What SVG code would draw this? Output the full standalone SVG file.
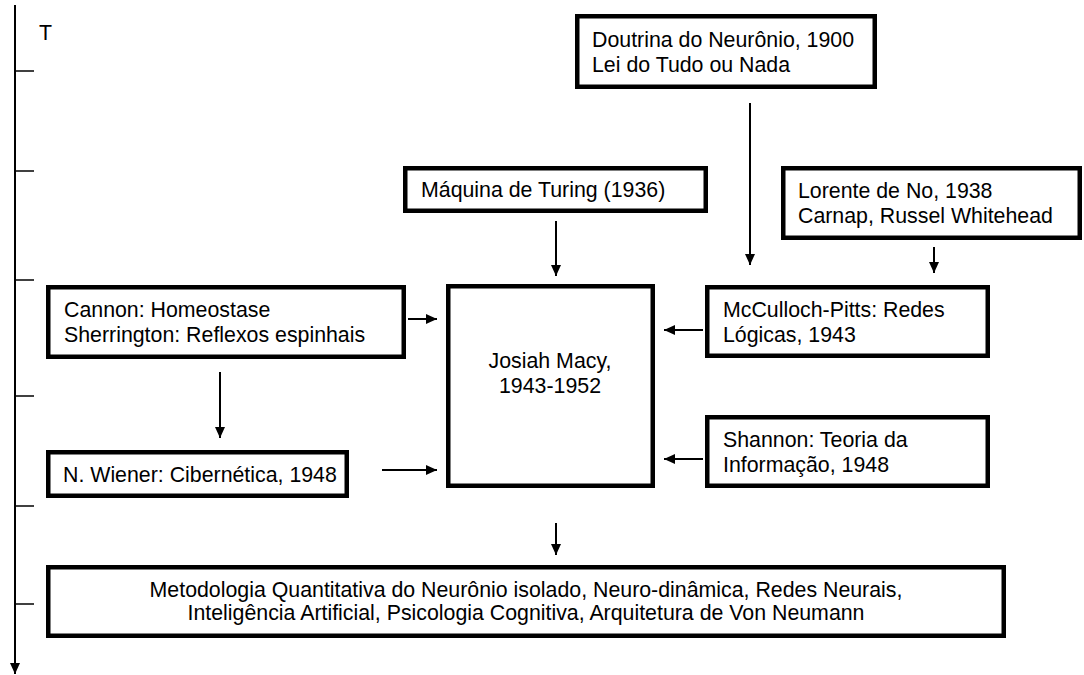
<svg xmlns="http://www.w3.org/2000/svg" width="1084" height="675" viewBox="0 0 1084 675">
<style>
.box{fill:#fff;stroke:#000;stroke-width:4.5}
.t{font-family:"Liberation Sans",Arial,sans-serif;font-size:21.33px;fill:#000}
.c{stroke:#000;stroke-width:2;fill:none;marker-end:url(#ah)}
.tick{stroke:#000;stroke-width:1.5}
</style>
<defs>
<marker id="ah" markerUnits="userSpaceOnUse" markerWidth="11" markerHeight="10" refX="11" refY="5" orient="auto">
<path d="M0,0 L11,5 L0,10 z" fill="#000"/>
</marker>
</defs>
<g id="axis">
<line x1="15" y1="5" x2="15" y2="674" class="c"/>
<line x1="16" y1="71" x2="34" y2="71" class="tick"/>
<line x1="16" y1="171" x2="34" y2="171" class="tick"/>
<line x1="16" y1="280" x2="34" y2="280" class="tick"/>
<line x1="16" y1="396" x2="34" y2="396" class="tick"/>
<line x1="16" y1="506" x2="34" y2="506" class="tick"/>
<line x1="16" y1="604" x2="34" y2="604" class="tick"/>
<text x="39" y="40" class="t">T</text>
</g>
<g id="connectors">
<line x1="750" y1="103" x2="750" y2="265" class="c"/>
<line x1="556" y1="221" x2="556" y2="276" class="c"/>
<line x1="934" y1="247" x2="934" y2="273" class="c"/>
<line x1="703" y1="330" x2="664" y2="330" class="c"/>
<line x1="703" y1="459" x2="664" y2="459" class="c"/>
<line x1="408" y1="319" x2="437" y2="319" class="c"/>
<line x1="382" y1="470" x2="437" y2="470" class="c"/>
<line x1="220" y1="372" x2="220" y2="438" class="c"/>
<line x1="556" y1="523" x2="556" y2="555" class="c"/>
</g>
<g id="doutrina">
<rect x="577.25" y="16.25" width="297.5" height="70.5" class="box"/>
<text x="592" y="47" class="t">Doutrina do Neurônio, 1900</text>
<text x="592" y="72" class="t">Lei do Tudo ou Nada</text>
</g>
<g id="maquina">
<rect x="405.25" y="168.25" width="300.5" height="42.5" class="box"/>
<text x="421" y="197" class="t">Máquina de Turing (1936)</text>
</g>
<g id="lorente">
<rect x="783.25" y="168.25" width="296.5" height="69.5" class="box"/>
<text x="798" y="198" class="t">Lorente de No, 1938</text>
<text x="798" y="223" class="t">Carnap, Russel Whitehead</text>
</g>
<g id="mcculloch">
<rect x="707.25" y="287.25" width="280.5" height="68.5" class="box"/>
<text x="723" y="317" class="t">McCulloch-Pitts: Redes</text>
<text x="723" y="342" class="t">Lógicas, 1943</text>
</g>
<g id="shannon">
<rect x="707.25" y="417.25" width="280.5" height="68.5" class="box"/>
<text x="723" y="447" class="t">Shannon: Teoria da</text>
<text x="723" y="472" class="t">Informação, 1948</text>
</g>
<g id="josiah">
<rect x="448.25" y="286.25" width="204.5" height="199.5" class="box"/>
<text x="550" y="368" class="t" text-anchor="middle">Josiah Macy,</text>
<text x="550" y="393" class="t" text-anchor="middle">1943-1952</text>
</g>
<g id="cannon">
<rect x="48.25" y="287.25" width="355.5" height="69.5" class="box"/>
<text x="64" y="317" class="t">Cannon: Homeostase</text>
<text x="64" y="342" class="t">Sherrington: Reflexos espinhais</text>
</g>
<g id="wiener">
<rect x="48.25" y="452.25" width="298.5" height="43.5" class="box"/>
<text x="63" y="482" class="t">N. Wiener: Cibernética, 1948</text>
</g>
<g id="resultado">
<rect x="48.25" y="567.25" width="955.5" height="68.5" class="box"/>
<text x="526" y="597" class="t" text-anchor="middle">Metodologia Quantitativa do Neurônio isolado, Neuro-dinâmica, Redes Neurais,</text>
<text x="526" y="620" class="t" text-anchor="middle">Inteligência Artificial, Psicologia Cognitiva, Arquitetura de Von Neumann</text>
</g>
</svg>
